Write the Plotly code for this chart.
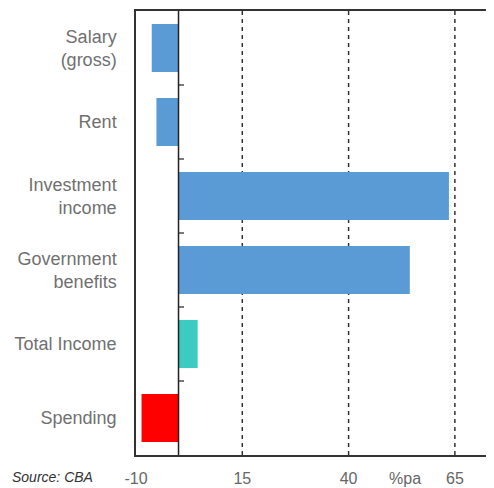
import plotly.graph_objects as go

categories = ["Salary<br>(gross)", "Rent", "Investment<br>income", "Government<br>benefits", "Total Income", "Spending"]
values = [-6.3, -5.2, 63.6, 54.4, 4.5, -8.7]
colors = ["#5B9BD5", "#5B9BD5", "#5B9BD5", "#5B9BD5", "#3CCBC3", "#FF0000"]
tick_vals = [-10, 15, 40, 53.3, 65]
tick_text = ["-10", "15", "40", "%pa", "65"]
grid_vals = [15, 40, 65]

fig = go.Figure()
fig.add_trace(go.Bar(
    y=list(range(len(categories))), x=values, orientation="h",
    marker=dict(color=colors, line=dict(width=0)), width=0.65,
))

for g in grid_vals:
    fig.add_vline(x=g, line=dict(color="#333333", width=1.5, dash="4px,4px"), layer="below")
fig.add_vline(x=0, line=dict(color="#222222", width=1.5))

for i in range(len(categories) - 1):
    fig.add_shape(type="line", xref="x", yref="y", x0=0, x1=1.3, y0=i + 0.5, y1=i + 0.5,
                  line=dict(color="#222222", width=1.2))

fig.add_annotation(text="<i>Source: CBA</i>", xref="paper", yref="paper", x=-0.352, y=-0.05,
                   xanchor="left", yanchor="middle", showarrow=False,
                   font=dict(family="Liberation Sans, Arial", size=14, color="#333333"))

fig.update_layout(
    width=486, height=480,
    margin=dict(l=128, r=0, t=3, b=33),
    paper_bgcolor="white", plot_bgcolor="white",
    showlegend=False,
    font=dict(family="Liberation Sans, Arial", color="#6a6a6a"),
    xaxis=dict(range=[-10, 74.2], tickvals=tick_vals, ticktext=tick_text,
               showgrid=False, zeroline=False, automargin=False,
               showline=True, linecolor="#333333", linewidth=1.5, mirror=True,
               ticks="outside", ticklen=8, tickcolor="rgba(0,0,0,0)",
               tickfont=dict(size=16, color="#666666")),
    yaxis=dict(range=[5.5, -0.5], tickvals=list(range(len(categories))), ticktext=categories,
               showgrid=False, zeroline=False, automargin=False,
               showline=True, linecolor="#333333", linewidth=1.5,
               ticks="outside", ticklen=14, tickcolor="rgba(0,0,0,0)",
               tickfont=dict(size=18, color="#707070")),
)

fig.write_html("out.html")
